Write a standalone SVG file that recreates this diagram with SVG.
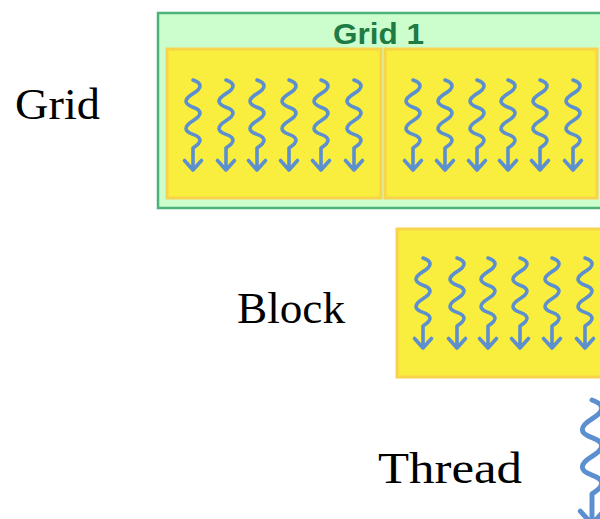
<svg xmlns="http://www.w3.org/2000/svg" xmlns:xlink="http://www.w3.org/1999/xlink" width="600" height="519" viewBox="0 0 600 519">
<style>
.lbl{font-family:"Liberation Serif","Times New Roman",serif;font-size:45px;fill:#000}
.gridbox{fill:#ccfdcc;stroke:#4cb27a;stroke-width:2.5}
.blk{fill:#f9ed3d;stroke:#f8d34c;stroke-width:3}
.thr{fill:none;stroke:#5b8fd0;stroke-width:3.6;stroke-linecap:round;stroke-linejoin:round}
.gt{font-family:"Liberation Sans",Arial,sans-serif;font-weight:bold;font-size:30px;fill:#1e7b45}
</style>
<defs>
<path id="wave" d="M0,0 Q14,5 0,13.6 T0,27.2 T0,40.8 T0,54.4 T0,68 L0,90 M-8.5,80.5 L0,90 L8.5,80.5"/>
</defs>
<text class="lbl" x="15" y="119" textLength="85" lengthAdjust="spacingAndGlyphs">Grid</text>
<text class="lbl" x="237" y="323" textLength="108" lengthAdjust="spacingAndGlyphs">Block</text>
<text class="lbl" x="378" y="483" textLength="144" lengthAdjust="spacingAndGlyphs">Thread</text>
<g id="grid">
<rect class="gridbox" x="158" y="13" width="470" height="195"/>
<text class="gt" x="378.5" y="44" text-anchor="middle" textLength="91" lengthAdjust="spacingAndGlyphs">Grid 1</text>
<g id="grid-block-1">
<rect class="blk" x="167" y="49" width="214" height="149"/>
<g class="thr">
<use xlink:href="#wave" x="193" y="80"/>
<use xlink:href="#wave" x="226" y="80"/>
<use xlink:href="#wave" x="257" y="80"/>
<use xlink:href="#wave" x="289" y="80"/>
<use xlink:href="#wave" x="321" y="80"/>
<use xlink:href="#wave" x="354" y="80"/>
</g>
</g>
<g id="grid-block-2">
<rect class="blk" x="385" y="49" width="212" height="149"/>
<g class="thr">
<use xlink:href="#wave" x="413" y="80"/>
<use xlink:href="#wave" x="445" y="80"/>
<use xlink:href="#wave" x="477" y="80"/>
<use xlink:href="#wave" x="508" y="80"/>
<use xlink:href="#wave" x="540" y="80"/>
<use xlink:href="#wave" x="573" y="80"/>
</g>
</g>
</g>
<g id="block">
<rect class="blk" x="397" y="229" width="230" height="148"/>
<g class="thr">
<use xlink:href="#wave" x="423" y="258"/>
<use xlink:href="#wave" x="457" y="258"/>
<use xlink:href="#wave" x="488" y="258"/>
<use xlink:href="#wave" x="520" y="258"/>
<use xlink:href="#wave" x="552" y="258"/>
<use xlink:href="#wave" x="585" y="258"/>
</g>
</g>
<g id="thread">
<g class="thr" transform="translate(592,400) scale(1.38)">
<use xlink:href="#wave"/>
</g>
</g>
</svg>
